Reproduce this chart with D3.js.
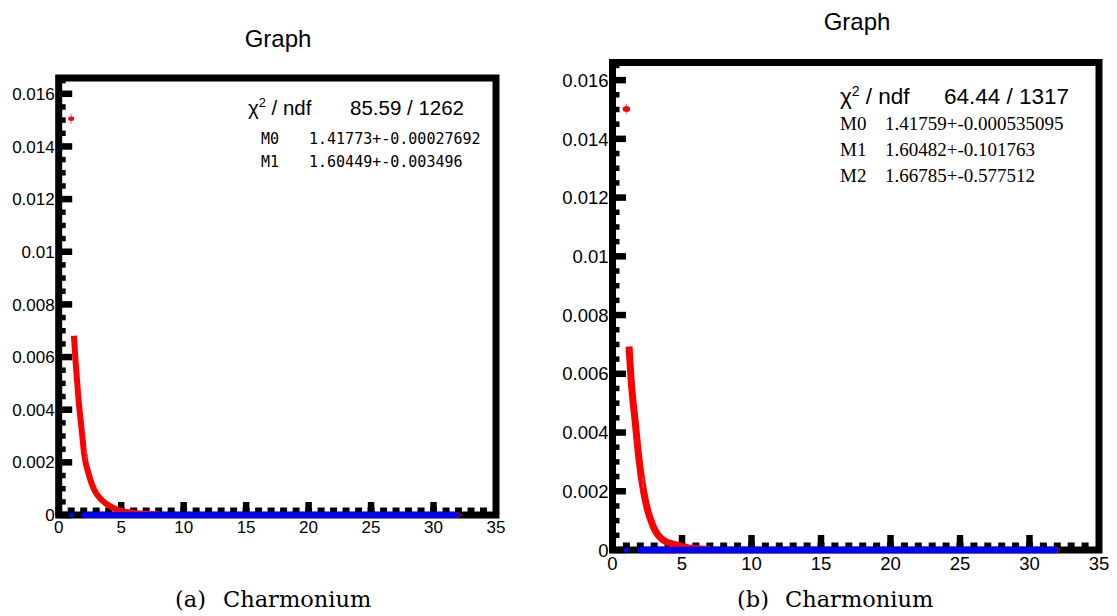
<!DOCTYPE html>
<html>
<head>
<meta charset="utf-8">
<script src="https://cdn.jsdelivr.net/npm/d3@7"></script>
<style>
  body { margin: 0; background: #fff; }
  svg { display: block; }
</style>
</head>
<body>
<svg id="chart" width="1117" height="616"></svg>
<script>
// tick values and labels
const xTicks = [0, 5, 10, 15, 20, 25, 30, 35];
const xMinorStep = 1;
const yTicks = [0, 0.002, 0.004, 0.006, 0.008, 0.010, 0.012, 0.014, 0.016];
const yTickLabels = ["0", "0.002", "0.004", "0.006", "0.008", "0.01", "0.012", "0.014", "0.016"];
const yMinorStep = 0.0005;

// red data points (x, y)
const redPointX = [1.0, 2.2];
const redPointYLeft = [0.01505, 0.00228];
const redPointYRight = [0.01502, 0.00230];

// red fit curve
const fitXLeft = [1.22, 1.36, 1.57, 1.84, 2.05, 2.37, 2.85, 3.44, 4.24, 5.04, 6.1, 8.0];
const fitYLeft = [0.00681, 0.00578, 0.00449, 0.00323, 0.00228, 0.0016, 0.00095, 0.00057, 0.0003, 0.00015, 0.00008, 0.00003];
const fitXRight = [1.19, 1.38, 1.62, 1.86, 2.10, 2.46, 2.94, 3.65, 4.62, 5.5, 7.0];
const fitYRight = [0.00693, 0.00556, 0.00443, 0.0033, 0.00239, 0.00148, 0.00079, 0.00034, 0.00017, 0.00007, 0.00002];

// blue points and blue line
const bluePointX = [1, 2];
const bluePointY = [0, 0];
const blueLineX = [2, 32];
const blueLineY = [0, 0];

// stats boxes
const chiLeft = "85.59 / 1262";
const parNamesLeft = ["M0", "M1"];
const parValuesLeft = ["1.41773+-0.00027692", "1.60449+-0.003496"];
const chiRight = "64.44 / 1317";
const parNamesRight = ["M0", "M1", "M2"];
const parValuesRight = ["1.41759+-0.000535095", "1.60482+-0.101763", "1.66785+-0.577512"];

const svg = d3.select("#chart");

function drawPanel(cfg) {
    const x = d3.scaleLinear().domain([0, 35]).range([cfg.left, cfg.right]);
    const y = d3.scaleLinear().domain([0, 0.0166]).range([cfg.bottom, cfg.top]);
    const g = svg.append("g");

    // title
    g.append("text")
        .attr("x", cfg.titleX).attr("y", cfg.titleY)
        .attr("text-anchor", "middle")
        .attr("font-family", "Liberation Sans, Arial, sans-serif")
        .attr("font-size", 24)
        .text("Graph");

    // frame
    g.append("rect")
        .attr("x", x(0)).attr("y", y(0.0166))
        .attr("width", x(35) - x(0)).attr("height", y(0) - y(0.0166))
        .attr("fill", "none").attr("stroke", "#000").attr("stroke-width", 7);

    // y ticks
    const yMinor = d3.range(0, 0.0166, yMinorStep);
    g.selectAll("line.ymin").data(yMinor).enter().append("line")
        .attr("x1", x(0)).attr("x2", x(0) + 7)
        .attr("y1", d => y(d)).attr("y2", d => y(d))
        .attr("stroke", "#000").attr("stroke-width", 5.5);
    g.selectAll("line.ymaj").data(yTicks).enter().append("line")
        .attr("x1", x(0)).attr("x2", x(0) + 13.5)
        .attr("y1", d => y(d)).attr("y2", d => y(d))
        .attr("stroke", "#000").attr("stroke-width", 6.5);
    g.selectAll("text.ylab").data(yTicks).enter().append("text")
        .attr("x", x(0) - 4).attr("y", d => y(d)).attr("dy", "0.36em")
        .attr("text-anchor", "end")
        .attr("font-family", "Liberation Sans, Arial, sans-serif")
        .attr("font-size", cfg.tickFont)
        .text((d, i) => yTickLabels[i]);

    // x ticks
    const xMinor = d3.range(0, 35, xMinorStep);
    g.selectAll("line.xmin").data(xMinor).enter().append("line")
        .attr("x1", d => x(d)).attr("x2", d => x(d))
        .attr("y1", y(0)).attr("y2", y(0) - 7.5)
        .attr("stroke", "#000").attr("stroke-width", 7);
    g.selectAll("line.xmaj").data(xTicks.slice(1, -1)).enter().append("line")
        .attr("x1", d => x(d)).attr("x2", d => x(d))
        .attr("y1", y(0)).attr("y2", y(0) - cfg.majorX)
        .attr("stroke", "#000").attr("stroke-width", 6.5);
    g.selectAll("text.xlab").data(xTicks).enter().append("text")
        .attr("x", d => x(d)).attr("y", y(0) + cfg.xLabDy)
        .attr("text-anchor", "middle")
        .attr("font-family", "Liberation Sans, Arial, sans-serif")
        .attr("font-size", cfg.tickFont)
        .text(d => d);

    // red fit curve
    const line = d3.line().x(d => x(d[0])).y(d => y(d[1])).curve(d3.curveMonotoneX);
    g.append("path")
        .datum(cfg.fitX.map((v, i) => [v, cfg.fitY[i]]))
        .attr("d", line)
        .attr("fill", "none").attr("stroke", "#ff0000").attr("stroke-width", cfg.fitWidth);

    // blue line
    g.append("path")
        .datum(blueLineX.map((v, i) => [v, blueLineY[i]]))
        .attr("d", d3.line().x(d => x(d[0])).y(d => y(d[1])))
        .attr("fill", "none").attr("stroke", "#0000ff").attr("stroke-width", cfg.blueWidth);

    // small red marker at line end
    g.append("path")
        .attr("d", `M${x(31.9)},${y(0) - 3}L${x(31.9) + 4},${y(0)}L${x(31.9)},${y(0) + 3}`)
        .attr("fill", "none").attr("stroke", "#c00060").attr("stroke-width", 1);

    // blue points
    g.selectAll("circle.bp").data(bluePointX).enter().append("circle")
        .attr("cx", d => x(d)).attr("cy", (d, i) => y(bluePointY[i]))
        .attr("r", 2.6).attr("fill", "#0000ff");

    // red points with error bars
    const rp = g.selectAll("g.rp").data(redPointX).enter().append("g");
    rp.append("line")
        .attr("x1", d => x(d)).attr("x2", d => x(d))
        .attr("y1", (d, i) => y(cfg.redY[i]) - 5).attr("y2", (d, i) => y(cfg.redY[i]) + 5)
        .attr("stroke", "#ff6060").attr("stroke-width", 1);
    rp.append("ellipse")
        .attr("cx", d => x(d)).attr("cy", (d, i) => y(cfg.redY[i]))
        .attr("rx", (d, i) => i === 0 ? cfg.markR + 0.8 : 1.5)
        .attr("ry", (d, i) => i === 0 ? cfg.markR : 1)
        .attr("fill", "#ff0000");

    // stats box
    const st = g.append("g");
    st.append("text")
        .attr("x", cfg.statX).attr("y", cfg.chiY)
        .attr("font-family", "Liberation Sans, Arial, sans-serif")
        .attr("font-size", cfg.chiFont)
        .html('χ<tspan dy="-8" font-size="' + (cfg.chiFont * 0.62) + '">2</tspan><tspan dy="8"> / ndf</tspan>');
    st.append("text")
        .attr("x", cfg.chiValX).attr("y", cfg.chiY)
        .attr("font-family", "Liberation Sans, Arial, sans-serif")
        .attr("font-size", cfg.chiFont)
        .text(cfg.chi);
    st.selectAll("text.pn").data(cfg.parNames).enter().append("text")
        .attr("x", cfg.parNameX).attr("y", (d, i) => cfg.parY0 + i * cfg.parDy)
        .attr("font-family", cfg.parFamily).attr("font-size", cfg.parFont)
        .text(d => d);
    st.selectAll("text.pv").data(cfg.parValues).enter().append("text")
        .attr("x", cfg.parValX).attr("y", (d, i) => cfg.parY0 + i * cfg.parDy)
        .attr("font-family", cfg.parFamily).attr("font-size", cfg.parFont)
        .text(d => d);

    // caption
    const cap = g.append("text")
        .attr("y", 607)
        .attr("font-family", "DejaVu Serif, Liberation Serif, serif")
        .attr("font-size", 22.5);
    cap.append("tspan").attr("x", cfg.capX).text(cfg.capTag);
    cap.append("tspan").attr("x", cfg.capX + 48).text("Charmonium");
}

drawPanel({
    left: 58.7, right: 496, bottom: 515, top: 78,
    titleX: 278, titleY: 47, tickFont: 17, xLabDy: 18, majorX: 13,
    fitX: fitXLeft, fitY: fitYLeft, fitWidth: 6, blueWidth: 6,
    redY: redPointYLeft, markR: 2.2,
    statX: 248, chiValX: 350, chiY: 115, chiFont: 20.5, chi: chiLeft,
    parNames: parNamesLeft, parValues: parValuesLeft,
    parFamily: "DejaVu Sans Mono, monospace", parFont: 15,
    parNameX: 261, parValX: 309, parY0: 144, parDy: 23,
    capX: 175, capTag: "(a)"
});

drawPanel({
    left: 612.5, right: 1099, bottom: 550, top: 62.5,
    titleX: 857, titleY: 30, tickFont: 18.5, xLabDy: 20, majorX: 15,
    fitX: fitXRight, fitY: fitYRight, fitWidth: 7, blueWidth: 6.5,
    redY: redPointYRight, markR: 3,
    statX: 840, chiValX: 944, chiY: 104, chiFont: 22.5, chi: chiRight,
    parNames: parNamesRight, parValues: parValuesRight,
    parFamily: "Liberation Serif, Times New Roman, serif", parFont: 19,
    parNameX: 840, parValX: 885, parY0: 130, parDy: 26,
    capX: 737, capTag: "(b)"
});
</script>
</body>
</html>
